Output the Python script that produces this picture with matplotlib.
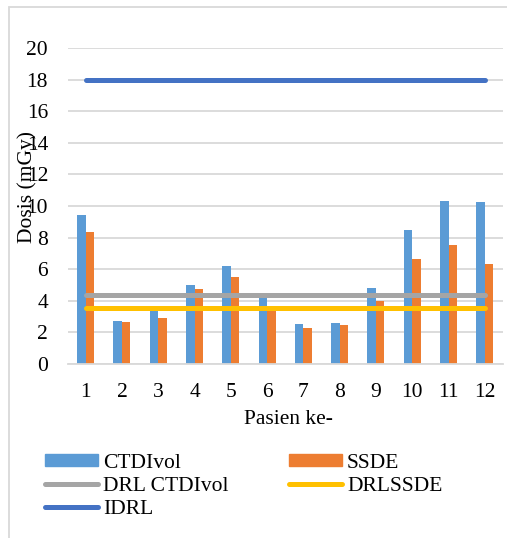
import matplotlib.pyplot as plt
import numpy as np
from matplotlib.lines import Line2D
from matplotlib.patches import Patch, Rectangle

plt.rcParams['font.family'] = ['Liberation Serif', 'DejaVu Serif']

# data
pasien = [1, 2, 3, 4, 5, 6, 7, 8, 9, 10, 11, 12]
ctdivol = [9.43, 2.69, 3.35, 5.03, 6.2, 4.18, 2.55, 2.59, 4.82, 8.49, 10.34, 10.23]
ssde = [8.36, 2.67, 2.9, 4.75, 5.48, 3.5, 2.31, 2.46, 3.99, 6.62, 7.54, 6.34]
drl_ctdivol = 4.37
drl_ssde = 3.52
idrl = 18

c_ctdi = '#5b9bd5'
c_ssde = '#ed7d31'
c_drl = '#a5a5a5'
c_drlssde = '#ffc000'
c_idrl = '#4472c4'
grid_c = '#d9d9d9'
fs = 15.5

fig = plt.figure(figsize=(5.07, 5.38), dpi=100)
ax = fig.add_axes([67.5 / 507, 1 - 364 / 538, 435.5 / 507, 316 / 538])

x = np.array(pasien)
w = 0.234
ax.bar(x - w / 2, ctdivol, w, color=c_ctdi, zorder=2)
ax.bar(x + w / 2, ssde, w, color=c_ssde, zorder=2)

ax.plot(x, [drl_ctdivol] * len(x), color=c_drl, lw=3.6, solid_capstyle='round', zorder=3)
ax.plot(x, [drl_ssde] * len(x), color=c_drlssde, lw=3.6, solid_capstyle='round', zorder=3)
ax.plot(x, [idrl] * len(x), color=c_idrl, lw=3.6, solid_capstyle='round', zorder=3)

ax.set_xlim(0.5, 12.5)
ax.set_ylim(0, 20)
ax.set_yticks(range(0, 21, 2))
ax.set_xticks(x)
ax.yaxis.grid(True, color=grid_c, lw=1.3, zorder=0)
ax.set_axisbelow(True)
for s in ['top', 'right', 'left']:
    ax.spines[s].set_visible(False)
ax.spines['bottom'].set_color(grid_c)
ax.spines['bottom'].set_linewidth(1.3)
ax.tick_params(axis='both', length=0, labelsize=fs)
ax.tick_params(axis='x', pad=14)
ax.tick_params(axis='y', pad=14)

fig.text(27 / 507, 1 - 187 / 538, 'Dosis (mGy)', rotation=90, ha='center', va='center', fontsize=fs)
fig.text(288 / 507, 1 - 420 / 538, 'Pasien ke-', ha='center', va='center', fontsize=fs)

# chart area border (left and top visible)
fig.add_artist(Rectangle((8.5 / 507, -0.1), 1.0, 1.1 - 7 / 538, transform=fig.transFigure,
                         fill=False, edgecolor=grid_c, lw=1.3))

h1 = [Patch(color=c_ctdi, label='CTDIvol'),
      Line2D([], [], color=c_drl, lw=3.6, solid_capstyle='round', label='DRL CTDIvol'),
      Line2D([], [], color=c_idrl, lw=3.6, solid_capstyle='round', label='IDRL')]
h2 = [Patch(color=c_ssde, label='SSDE'),
      Line2D([], [], color=c_drlssde, lw=3.6, solid_capstyle='round', label='DRLSSDE')]
kw = dict(frameon=False, fontsize=fs, handlelength=2.45, handleheight=0.5, handletextpad=0.25,
          labelspacing=0.18, borderaxespad=0, borderpad=0, loc='upper left')
fig.legend(handles=h1, bbox_to_anchor=(45 / 507, 1 - 454 / 538), **kw)
fig.legend(handles=h2, bbox_to_anchor=(289 / 507, 1 - 454 / 538), **kw)

fig.savefig('out.png', dpi=100)
